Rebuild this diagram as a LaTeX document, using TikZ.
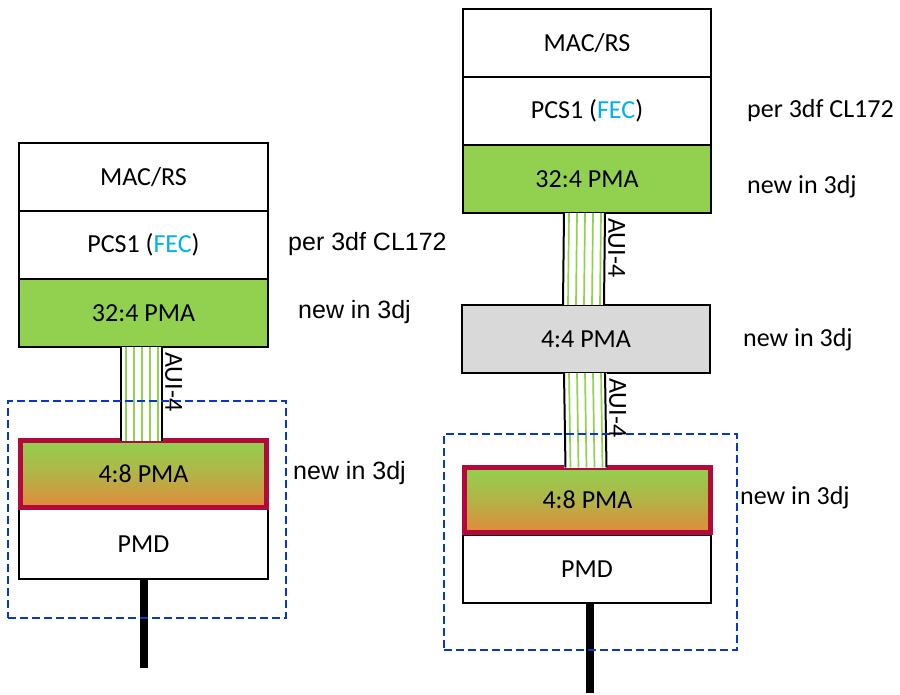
\documentclass[tikz,border=0pt]{standalone}
\usepackage{fontspec}
\setmainfont{Carlito}
\newfontfamily\arialfont{Liberation Sans}
\usetikzlibrary{calc}
\definecolor{pmagreen}{HTML}{92D050}
\definecolor{pmaorange}{HTML}{E3893A}
\definecolor{pmagray}{HTML}{D9D9D9}
\definecolor{newred}{HTML}{B30A3C}
\definecolor{fecblue}{HTML}{00B0F0}
\definecolor{groupblue}{HTML}{0A36D0}
\tikzset{
  layer/.style={draw=black, line width=2pt, rectangle, inner sep=0pt, outer sep=0pt,
    minimum height=68pt, font=\fontsize{26}{30}\selectfont, text=black},
  newlayer/.style={draw=newred, line width=5pt, rectangle, inner sep=0pt, outer sep=0pt,
    minimum width=246pt, top color=pmagreen, bottom color=pmaorange, middle color=pmagreen!60!pmaorange,
    font=\fontsize{26}{30}\selectfont, text=black},
  lanewire/.style={draw=pmagreen, line width=1.7pt},
  laneedge/.style={draw=black, line width=2pt},
  auilabel/.style={rotate=-90, anchor=south west, inner sep=0pt, font=\fontsize{26}{30}\selectfont},
  cable/.style={draw=black, line width=8pt},
  group/.style={draw=groupblue, line width=2.5pt, dash pattern=on 8pt off 4pt},
  notesans/.style={anchor=west, inner sep=0pt, font=\arialfont\fontsize{25}{30}\selectfont},
  notecal/.style={anchor=west, inner sep=0pt, font=\fontsize{26}{30}\selectfont},
}
\begin{document}
\begin{tikzpicture}[x=1pt, y=-1pt]
\useasboundingbox (0,0) rectangle (900,695);

% ---------- left stack ----------
\node[layer, minimum width=249pt] (lmac) at (143.5,177) {MAC/RS};
\node[layer, minimum width=249pt] (lpcs) at (143.5,245) {PCS1 (\textcolor{fecblue}{FEC})};
\node[layer, minimum width=249pt, fill=pmagreen] (lpma) at (143.5,313) {32:4 PMA};
\node[layer, minimum width=249pt, minimum height=70pt] (lpmd) at (143.5,544) {PMD};
\node[newlayer, minimum height=67pt] (l48) at (143.5,474) {4:8 PMA};

% ---------- right stack ----------
\node[layer, minimum width=248pt] (rmac) at (587,43) {MAC/RS};
\node[layer, minimum width=248pt] (rpcs) at (587,111) {PCS1 (\textcolor{fecblue}{FEC})};
\node[layer, minimum width=248pt, fill=pmagreen] (rpma) at (587,179) {32:4 PMA};
\node[layer, minimum width=248pt, fill=pmagray] (r44) at (586,339) {4:4 PMA};
\node[layer, minimum width=248pt] (rpmd) at (587,569) {PMD};
\node[newlayer, minimum height=65pt] (r48) at (587.5,500) {4:8 PMA};

% ---------- AUI-4 lane bundles ----------
\foreach \a/\b/\dx in {lpma/l48/-22.5, rpma/r44/-23, r44/r48/-22} {
  \fill[white] ($(\a.south)+(\dx,0)$) rectangle ($(\b.north)+(\dx+41,0)$);
  \foreach \w in {5,13,21,29,37}
    \draw[lanewire] ($(\a.south)+(\dx+\w,0)$) -- ($(\b.north)+(\dx+\w,0)$);
  \draw[laneedge] ($(\a.south)+(\dx,0)$) -- ($(\b.north)+(\dx,0)$);
  \draw[laneedge] ($(\a.south)+(\dx+41,0)$) -- ($(\b.north)+(\dx+41,0)$);
}

% ---------- line cables ----------
\coordinate (lend) at (143.5,668);
\coordinate (rend) at (590,693);
\draw[cable] (lpmd.south) -- (lend);
\draw[cable] (rpmd.south -| rend) -- (rend);

% ---------- PHY groupings ----------
\node[group, rectangle, inner sep=0pt, minimum width=278pt, minimum height=217pt] (lgroup) at (147,509.5) {};
\node[group, rectangle, inner sep=0pt, minimum width=293pt, minimum height=216pt] (rgroup) at (590.5,542) {};

% ---------- interface labels ----------
\node[auilabel] (laui) at ($(lpma.south)+(21.5,5)$) {AUI-4};
\node[auilabel] (raui1) at ($(rpma.south)+(21,5)$) {AUI-4};
\node[auilabel] (raui2) at ($(r44.south)+(23,5)$) {AUI-4};

% ---------- notes ----------
\node[notesans] (lnote1) at (288,244) {per 3df CL172};
\node[notesans] (lnote2) at (298,312) {new in 3dj};
\node[notesans] (lnote3) at (293,473) {new in 3dj};
\node[notecal] (rnote1) at (747,111) {per 3df CL172};
\node[notecal] (rnote2) at (747,187) {new in 3dj};
\node[notecal] (rnote3) at (743,340) {new in 3dj};
\node[notecal] (rnote4) at (740,498) {new in 3dj};
\end{tikzpicture}
\end{document}
